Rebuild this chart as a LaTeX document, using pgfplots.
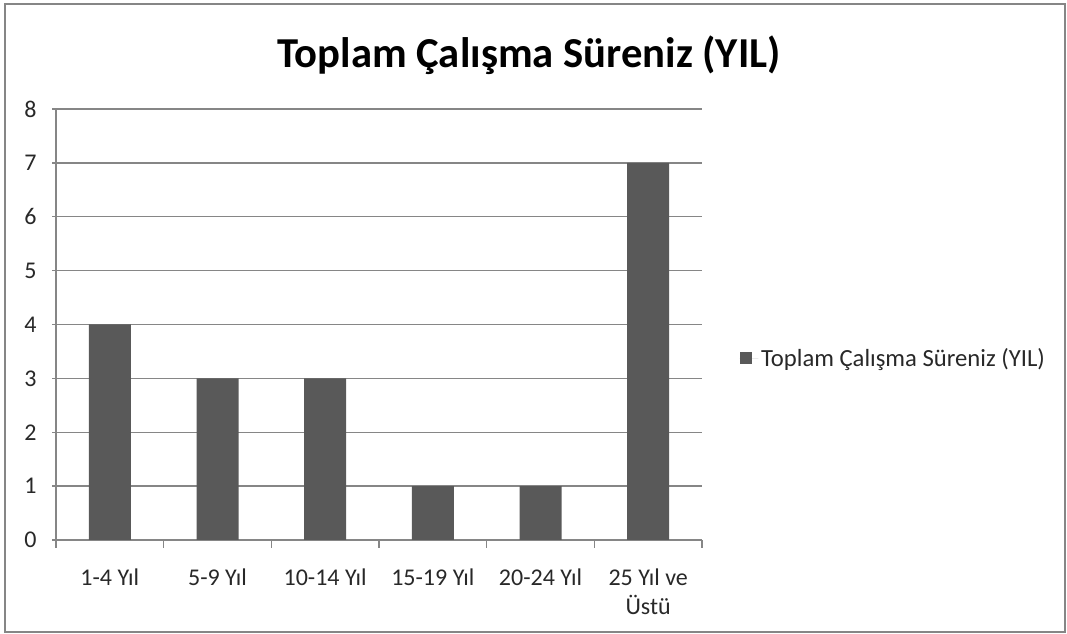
\documentclass[border=0pt]{standalone}
\usepackage{pgfplots}
\pgfplotsset{compat=1.18}
\usepackage{fontspec}
\setmainfont{Carlito}
\definecolor{barcol}{RGB}{89,89,89}
\definecolor{axcol}{RGB}{134,134,134}
\definecolor{txtcol}{RGB}{40,40,40}
\begin{document}
\begin{tikzpicture}
\path[use as bounding box] (0,0) rectangle (800.25pt,475.5pt);
\draw[axcol, line width=0.8pt] (3.75pt,1.5pt) rectangle (798.75pt,472.5pt);
\node[font=\bfseries\fontsize{32}{36}\selectfont, text=black] at (396.75pt,434.25pt) {Toplam Çalışma Süreniz (YIL)};
\begin{axis}[
  at={(42pt,70.5pt)}, anchor=south west,
  scale only axis, width=484.5pt, height=323.25pt,
  xmin=-0.5, xmax=5.5, ymin=0, ymax=8,
  ytick={0,...,8},
  xtick={0,...,5},
  xticklabels={1-4 Yıl,5-9 Yıl,10-14 Yıl,15-19 Yıl,20-24 Yıl,{25 Yıl ve\\Üstü}},
  x tick label style={align=center, font=\fontsize{18}{22}\selectfont, text=txtcol, yshift=-12pt},
  y tick label style={font=\fontsize{18}{22}\selectfont, text=txtcol, xshift=-8pt},
  /pgf/number format/assume math mode=true,
  major x tick style={draw=none},
  minor xtick={-0.5,0.5,...,5.5},
  minor tick length=6pt,
  major tick length=6pt,
  tick align=outside,
  tick style={axcol, line width=1pt},
  ymajorgrids, grid style={axcol, line width=1pt},
  axis line style={axcol, line width=1pt},
  axis x line=bottom, axis y line=left,
  separate axis lines,
  x axis line style={-}, y axis line style={-},
  ybar, bar width=31.5pt,
  legend style={at={(1.058,0.422)}, anchor=west, draw=none, fill=none,
    font=\fontsize{18.5}{22}\selectfont, text=txtcol,
    legend cell align=left, inner sep=0pt},
  legend image code/.code={\fill[barcol] (0pt,-4.5pt) rectangle (9pt,4.5pt); \path (0pt,0pt) -- (14pt,0pt);},
]
\addplot[fill=barcol, draw=none] coordinates {(0,4) (1,3) (2,3) (3,1) (4,1) (5,7)};
\addlegendentry{Toplam Çalışma Süreniz (YIL)}
\end{axis}
\end{tikzpicture}
\end{document}
